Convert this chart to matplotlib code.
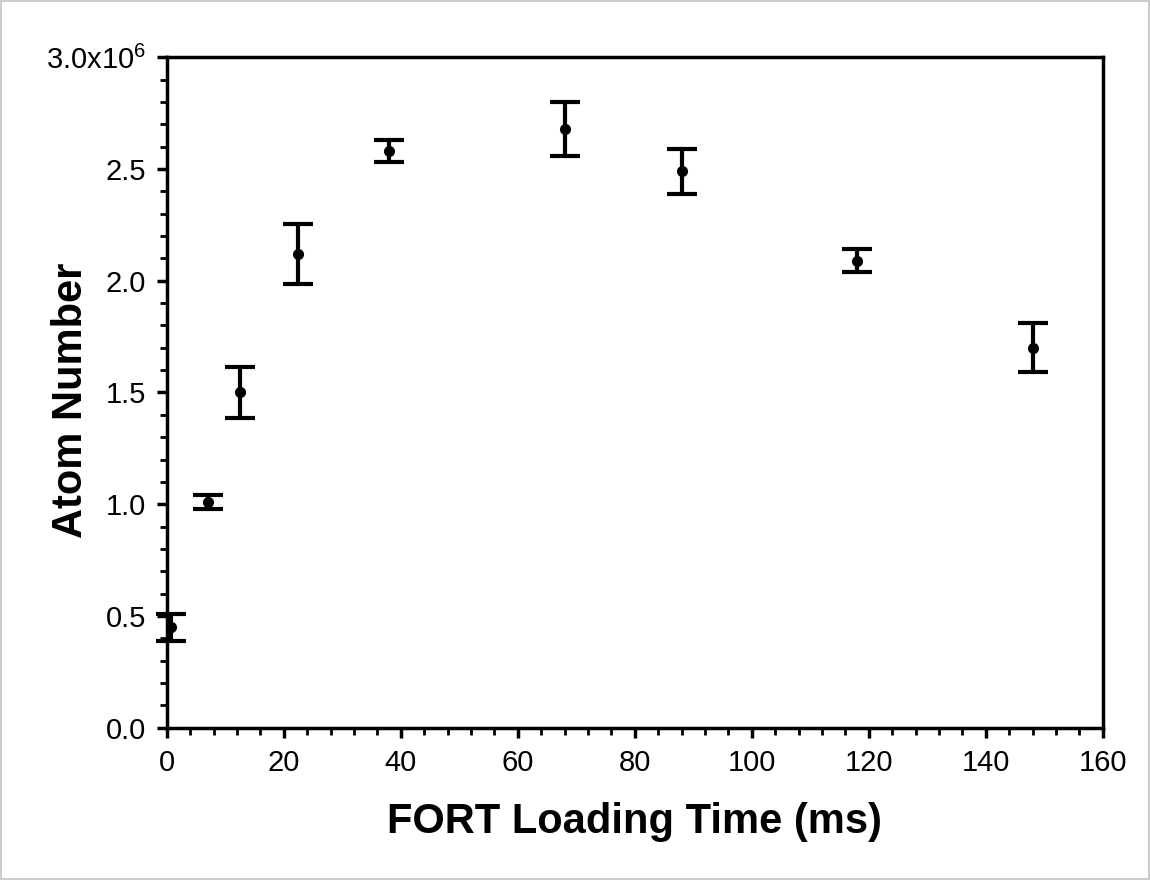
import matplotlib
matplotlib.use("Agg")
import matplotlib.pyplot as plt
from matplotlib.ticker import MultipleLocator, FixedLocator, FixedFormatter

# data
load_time = [0.8, 7, 12.5, 22.5, 38, 68, 88, 118, 148]          # ms
atom_num = [0.45, 1.01, 1.50, 2.12, 2.58, 2.68, 2.49, 2.09, 1.70]  # x1e6
atom_err = [0.06, 0.03, 0.115, 0.135, 0.05, 0.12, 0.10, 0.05, 0.11]

y_ticks = [0.0, 0.5, 1.0, 1.5, 2.0, 2.5, 3.0]
y_labels = ["0.0", "0.5", "1.0", "1.5", "2.0", "2.5", "3.0x10$^{6}$"]

plt.rcParams['font.family'] = ['Liberation Sans', 'DejaVu Sans']
plt.rcParams['mathtext.default'] = 'regular'

fig = plt.figure(figsize=(11.5, 8.8), dpi=100)
fig.patch.set_edgecolor('#cccccc')
fig.patch.set_linewidth(1.5)
ax = fig.add_axes([0.145, 0.173, 0.814, 0.762])

ax.errorbar(load_time, atom_num, yerr=atom_err, fmt='o', color='black',
            ms=7, elinewidth=3, capsize=11, capthick=3, clip_on=False, zorder=3)

ax.set_xlim(0, 160)
ax.set_ylim(0, 3.0)
ax.xaxis.set_major_locator(MultipleLocator(20))
ax.xaxis.set_minor_locator(MultipleLocator(4))
ax.yaxis.set_major_locator(FixedLocator(y_ticks))
ax.yaxis.set_major_formatter(FixedFormatter(y_labels))
ax.yaxis.set_minor_locator(MultipleLocator(0.1))

for s in ax.spines.values():
    s.set_linewidth(2.5)
ax.tick_params(which='major', direction='out', length=7, width=2.5,
               labelsize=21, pad=8)
ax.tick_params(which='minor', direction='out', length=5, width=2)

ax.set_xlabel("FORT Loading Time (ms)", fontsize=30, fontweight='bold', labelpad=18)
ax.set_ylabel("Atom Number", fontsize=30, fontweight='bold')
ax.yaxis.set_label_coords(-0.081, 0.489)

fig.savefig("out.png", dpi=100)
